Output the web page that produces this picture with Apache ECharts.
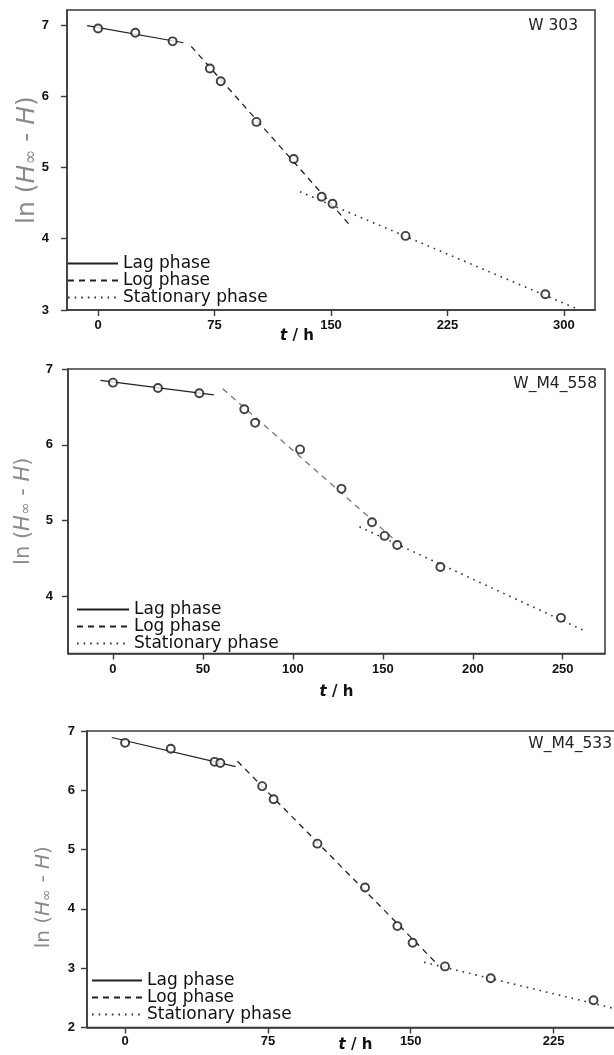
<!DOCTYPE html>
<html>
<head>
<meta charset="utf-8">
<script src="https://cdn.jsdelivr.net/npm/echarts@6/dist/echarts.min.js"></script>
<style>
  html, body { margin: 0; padding: 0; background: #fff; }
  #main { width: 614px; height: 1055px; }
</style>
</head>
<body>
<div id="main"></div>
<script>
// ---- data ----
const phaseNames = ["Lag phase", "Log phase", "Stationary phase"];

// W 303
const w303T = [0, 24, 48, 72, 79, 102, 126, 144, 151, 198, 288];
const w303Y = [6.95, 6.89, 6.77, 6.39, 6.21, 5.64, 5.12, 4.59, 4.49, 4.04, 3.22];
const w303Lag = [[-7, 6.99], [55, 6.75]];
const w303Log = [[60, 6.70], [163, 4.17]];
const w303Stat = [[130, 4.66], [308, 3.02]];
const w303XTicks = [0, 75, 150, 225, 300];
const w303YTicks = [3, 4, 5, 6, 7];

// W_M4_558
const m558T = [0, 25, 48, 73, 79, 104, 127, 144, 151, 158, 182, 249];
const m558Y = [6.82, 6.75, 6.68, 6.47, 6.29, 5.94, 5.42, 4.98, 4.80, 4.68, 4.39, 3.72];
const m558Lag = [[-7, 6.85], [56, 6.66]];
const m558Log = [[61, 6.74], [157, 4.74]];
const m558Stat = [[137, 4.92], [263, 3.54]];
const m558XTicks = [0, 50, 100, 150, 200, 250];
const m558YTicks = [4, 5, 6, 7];

// W_M4_533
const m533T = [0, 24, 47, 50, 72, 78, 101, 126, 143, 151, 168, 192, 246];
const m533Y = [6.80, 6.70, 6.48, 6.46, 6.07, 5.85, 5.10, 4.36, 3.71, 3.43, 3.03, 2.83, 2.46];
const m533Lag = [[-7, 6.89], [58, 6.40]];
const m533Log = [[59, 6.49], [163, 3.10]];
const m533Stat = [[157, 3.10], [262, 2.28]];
const m533XTicks = [0, 75, 150, 225];
const m533YTicks = [2, 3, 4, 5, 6, 7];

// ---- chart ----
const FONT = "DejaVu Sans";
const AXIS_COLOR = "#3a3a3a";
const chart = echarts.init(document.getElementById("main"));

const yName = "{a|ln (}{i|H}{s|∞}{a| - }{i|H}{a|)}";
function yNameStyle(size, pad) {
  return {
    color: "#8a8a8a",
    fontFamily: FONT,
    padding: pad,
    rich: {
      a: { fontSize: size, fontFamily: FONT, color: "#8a8a8a" },
      i: { fontSize: size, fontFamily: FONT, color: "#8a8a8a", fontStyle: "italic" },
      s: { fontSize: size * 0.72, fontFamily: FONT, color: "#8a8a8a", fontStyle: "italic", verticalAlign: "bottom", padding: [size * 0.3, 0, 0, 0] },
    },
  };
}
function xNameStyle(pad) {
  return {
    color: "#111",
    fontFamily: FONT,
    fontSize: 15,
    fontWeight: "bold",
    padding: pad,
    rich: {
      i: { fontSize: 15, fontFamily: FONT, fontWeight: "bold", fontStyle: "italic", color: "#111" },
      n: { fontSize: 15, fontFamily: FONT, fontWeight: "bold", color: "#111" },
    },
  };
}

const axisLineCfg = { show: true, onZero: false, lineStyle: { color: AXIS_COLOR, width: 1.5 } };
const tickLabelCfg = { color: "#111", fontFamily: "Liberation Sans", fontSize: 13, fontWeight: "bold" };

function xAxisCfg(idx, min, max, ticks, margin, gap, pad) {
  return {
    type: "value",
    gridIndex: idx,
    min: min,
    max: max,
    name: "{i|t}{n| / h}",
    nameLocation: "middle",
    nameGap: gap,
    nameMoveOverlap: false,
    nameTextStyle: xNameStyle(pad),
    axisLine: axisLineCfg,
    axisTick: { show: true, length: 6, customValues: ticks, lineStyle: { color: AXIS_COLOR, width: 1.4 } },
    axisLabel: Object.assign({ customValues: ticks, margin: margin }, tickLabelCfg),
    splitLine: { show: false },
  };
}
function yAxisCfg(idx, min, max, ticks, margin, gap, size, pad) {
  return {
    type: "value",
    gridIndex: idx,
    min: min,
    max: max,
    name: yName,
    nameLocation: "middle",
    nameGap: gap,
    nameMoveOverlap: false,
    nameTextStyle: yNameStyle(size, pad),
    axisLine: axisLineCfg,
    axisTick: { show: true, length: 6, customValues: ticks, lineStyle: { color: AXIS_COLOR, width: 1.4 } },
    axisLabel: Object.assign({ customValues: ticks, margin: margin }, tickLabelCfg),
    splitLine: { show: false },
  };
}

function panelSeries(idx, t, y, lag, log, stat, logColor) {
  const pts = t.map((v, i) => [v, y[i]]);
  return [
    {
      type: "line", name: phaseNames[0], xAxisIndex: idx, yAxisIndex: idx,
      data: lag, symbol: "none", z: 2, color: "#222",
      lineStyle: { color: "#222", width: 1.2, type: "solid" },
    },
    {
      type: "line", name: phaseNames[1], xAxisIndex: idx, yAxisIndex: idx,
      data: log, symbol: "none", z: 2, color: logColor,
      lineStyle: { color: logColor, width: 1.3, type: [6, 5] },
    },
    {
      type: "line", name: phaseNames[2], xAxisIndex: idx, yAxisIndex: idx,
      data: stat, symbol: "none", z: 2, color: "#333",
      lineStyle: { color: "#333", width: 1.6, type: [1.6, 5] },
    },
    {
      type: "scatter", name: "points", xAxisIndex: idx, yAxisIndex: idx,
      data: pts, symbol: "circle", symbolSize: 8, z: 5,
      itemStyle: { color: "#fff", borderColor: "#111", borderWidth: 1.9 },
    },
  ];
}

function legendCfg(left, top, w) {
  return {
    orient: "vertical",
    left: left,
    top: top,
    padding: 0,
    itemWidth: w,
    itemHeight: 14,
    itemGap: 0,
    selectedMode: false,
    data: phaseNames,
    itemStyle: { color: "transparent", borderWidth: 0, opacity: 0 },
    textStyle: { fontFamily: FONT, fontSize: 17, color: "#111" },
  };
}

const gridStyle = { show: true, borderColor: AXIS_COLOR, borderWidth: 1.5, backgroundColor: "transparent", outerBoundsMode: "none" };
const titleFont = { fontFamily: FONT, fontSize: 15.5, fontWeight: "normal", color: "#222" };

const option = {
  animation: false,
  backgroundColor: "#fff",
  title: [
    { text: "W 303", right: 36, top: 18, padding: 0, textStyle: titleFont },
    { text: "W_M4_558", right: 17, top: 376, padding: 0, textStyle: titleFont },
    { text: "W_M4_533", right: 2, top: 736, padding: 0, textStyle: titleFont },
  ],
  grid: [
    Object.assign({ left: 67, top: 10, width: 528, height: 300 }, gridStyle),
    Object.assign({ left: 68, top: 369, width: 537, height: 284.5 }, gridStyle),
    Object.assign({ left: 87, top: 731, width: 537, height: 296.5 }, gridStyle),
  ],
  xAxis: [
    xAxisCfg(0, -20, 320, w303XTicks, 9, 19, [0, 68, 0, 0]),
    xAxisCfg(1, -25, 273.5, m558XTicks, 9, 31, 0),
    xAxisCfg(2, -20, 262, m533XTicks, 7, 10, 0),
  ],
  yAxis: [
    yAxisCfg(0, 3, 7.21, w303YTicks, 18, 27, 25, 0),
    yAxisCfg(1, 3.25, 7, m558YTicks, 15, 34, 21, 0),
    yAxisCfg(2, 2, 7, m533YTicks, 12, 33, 20, [0, 36, 0, 0]),
  ],
  legend: [
    legendCfg(67, 255, 50),
    legendCfg(76, 601, 52),
    legendCfg(91, 972, 50),
  ],
  series: [].concat(
    panelSeries(0, w303T, w303Y, w303Lag, w303Log, w303Stat, "#222"),
    panelSeries(1, m558T, m558Y, m558Lag, m558Log, m558Stat, "#777"),
    panelSeries(2, m533T, m533Y, m533Lag, m533Log, m533Stat, "#222")
  ),
};

chart.setOption(option);
</script>
</body>
</html>
